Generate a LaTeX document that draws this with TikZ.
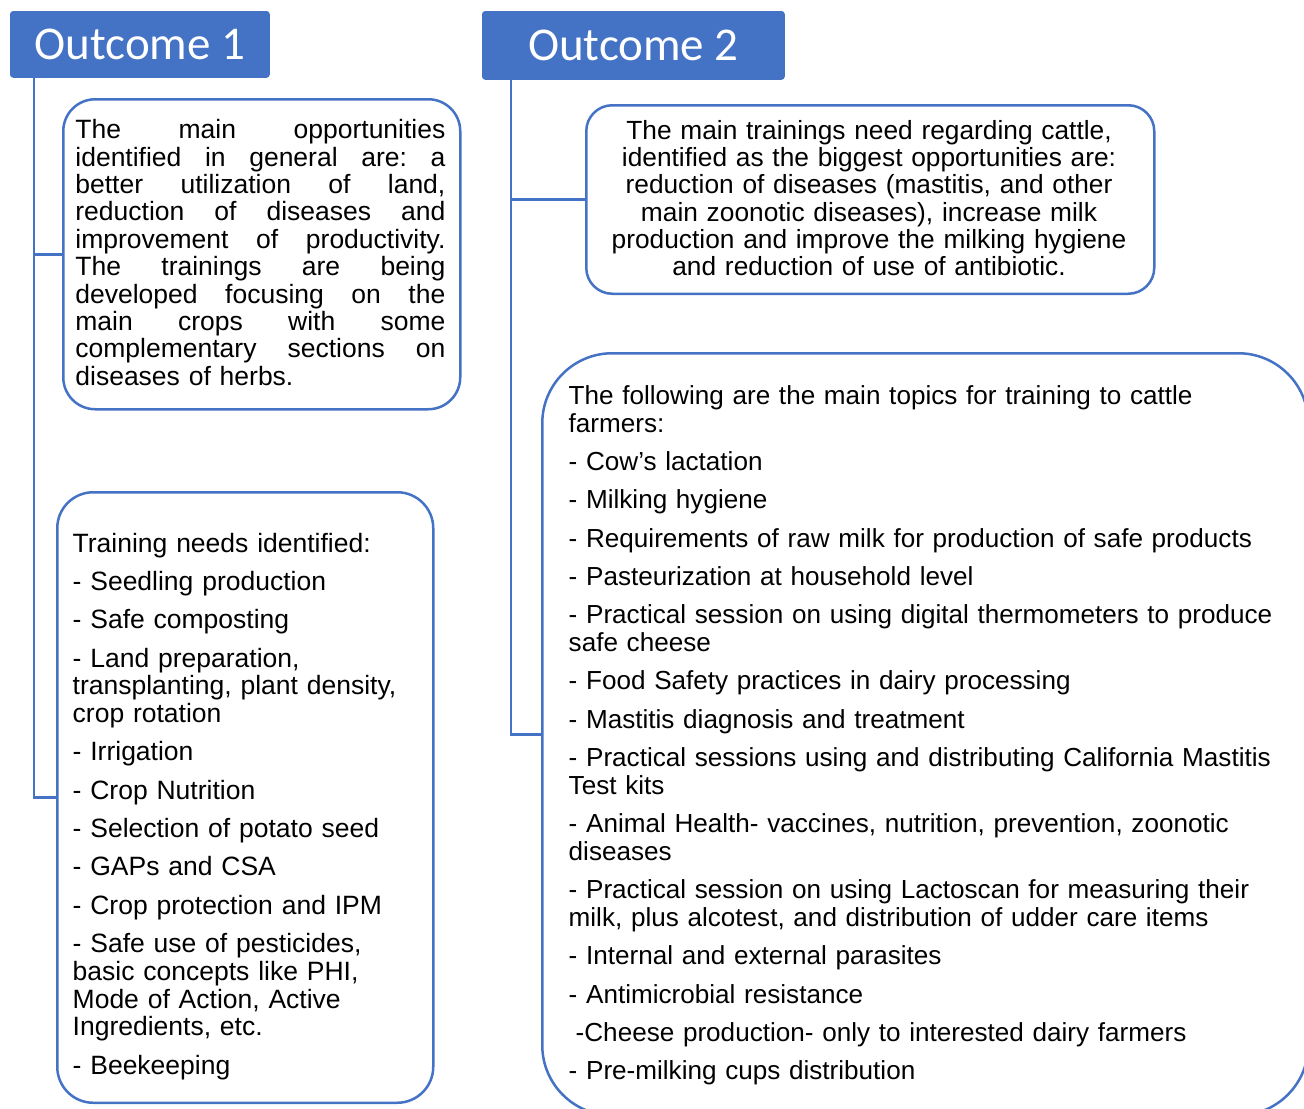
\documentclass[tikz,border=0pt]{standalone}
\usepackage{fontspec}
\setmainfont{Liberation Sans}
\newfontfamily\calibri{Carlito}
\definecolor{oblue}{HTML}{4472C4}
\newcommand\topstrut{\rule{0pt}{10pt}}
\begin{document}
\begin{tikzpicture}[x=0.5pt,y=-0.5pt,
  outcome/.style={fill=oblue, draw=oblue, rounded corners=1.5pt, text=white,
    font=\calibri\fontsize{23.5pt}{28pt}\selectfont, inner sep=0pt, anchor=north west},
  boxframe/.style={draw=oblue, line width=1.25pt, fill=white, anchor=north west, inner sep=0pt},
  body/.style={inner sep=0pt, anchor=north west, align=left},
  link/.style={draw=oblue, line width=1.3pt}]
\useasboundingbox (0,0) rectangle (1304,1108);
\clip (0,0) rectangle (1304,1108);

% outcome headers
\node[outcome, minimum width=129.5pt, minimum height=33pt] (o1) at (10,11) {Outcome 1};
\node[outcome, minimum width=151pt, minimum height=34pt] (o2) at (482,11) {Outcome 2};

% frames
\node[boxframe, minimum width=198.5pt, minimum height=155pt, rounded corners=16pt] (bA) at (62,98) {};
\node[boxframe, minimum width=284pt, minimum height=94.25pt, rounded corners=13pt] (bB) at (585,104) {};
\node[boxframe, minimum width=188pt, minimum height=305.25pt, rounded corners=18pt] (bC) at (56,491) {};
\node[boxframe, minimum width=383pt, minimum height=381pt, rounded corners=35pt] (bD) at (541,352) {};

% connectors
\coordinate (j1) at (34,797);
\coordinate (j2) at (511,733);
\draw[link] (o1.south -| j1) -- (j1 |- bC.west) -- (bC.west);
\draw[link] (j1 |- bA.west) -- (bA.west);
\draw[link] (o2.south -| j2) -- (j2 |- bD.west) -- (bD.west);
\draw[link] (j2 |- bB.west) -- (bB.west);

% texts
\node[body, text width=185pt, font=\fontsize{13.25pt}{13.7pt}\selectfont] (tA) at (75,118.3) {\topstrut
The\hfill main\hfill opportunities\\
identified\hfill in\hfill general\hfill are:\hfill a\\
better\hfill utilization\hfill of\hfill land,\\
reduction\hfill of\hfill diseases\hfill and\\
improvement\hfill of\hfill productivity.\\
The\hfill trainings\hfill are\hfill being\\
developed\hfill focusing\hfill on\hfill the\\
main\hfill crops\hfill with\hfill some\\
complementary\hfill sections\hfill on\\
diseases of herbs.};

\node[body, anchor=north, align=center, text width=280pt, font=\fontsize{13.15pt}{13.55pt}\selectfont] (tB) at (869,119.3) {\topstrut
The main trainings need regarding cattle,\\
identified as the biggest opportunities are:\\
reduction of diseases (mastitis, and other\\
main zoonotic diseases), increase milk\\
production and improve the milking hygiene\\
and reduction of use of antibiotic.};

\node[body, text width=180pt, font=\fontsize{13.25pt}{13.9pt}\selectfont] (tC) at (72.3,531.7) {\topstrut
Training needs identified:\\[5.25pt]
- Seedling production\\[5.25pt]
- Safe composting\\[5.25pt]
- Land preparation,\\
transplanting, plant density,\\
crop rotation\\[5.25pt]
- Irrigation\\[5.25pt]
- Crop Nutrition\\[5.25pt]
- Selection of potato seed\\[5.25pt]
- GAPs and CSA\\[5.25pt]
- Crop protection and IPM\\[5.25pt]
- Safe use of pesticides,\\
basic concepts like PHI,\\
Mode of Action, Active\\
Ingredients, etc.\\[5.25pt]
- Beekeeping};

\node[body, text width=370pt, font=\fontsize{13.05pt}{13.9pt}\selectfont] (tD) at (568.3,384) {\topstrut
The following are the main topics for training to cattle\\
farmers:\\[5.25pt]
- Cow’s lactation\\[5.25pt]
- Milking hygiene\\[5.25pt]
- Requirements of raw milk for production of safe products\\[5.25pt]
- Pasteurization at household level\\[5.25pt]
- Practical session on using digital thermometers to produce\\
safe cheese\\[5.25pt]
- Food Safety practices in dairy processing\\[5.25pt]
- Mastitis diagnosis and treatment\\[5.25pt]
- Practical sessions using and distributing California Mastitis\\
Test kits\\[5.25pt]
- Animal Health- vaccines, nutrition, prevention, zoonotic\\
diseases\\[5.25pt]
- Practical session on using Lactoscan for measuring their\\
milk, plus alcotest, and distribution of udder care items\\[5.25pt]
- Internal and external parasites\\[5.25pt]
- Antimicrobial resistance\\[5.25pt]
\hspace*{3.5pt}-Cheese production- only to interested dairy farmers\\[5.25pt]
- Pre-milking cups distribution};
\end{tikzpicture}
\end{document}
